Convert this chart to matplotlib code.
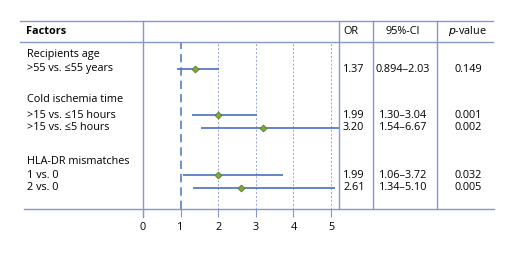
import matplotlib
matplotlib.use("Agg")
import matplotlib.pyplot as plt
from matplotlib.lines import Line2D

plt.rcParams["font.family"] = ["Open Sans", "DejaVu Sans"]

# data
GROUPS = ["Recipients age", "Cold ischemia time", "HLA-DR mismatches"]
LABELS = [">55 vs. \u226455 years",
          ">15 vs. \u226415 hours", ">15 vs. \u22645 hours",
          "1 vs. 0", "2 vs. 0"]
OR = [1.37, 1.99, 3.20, 1.99, 2.61]
CI_LOW = [0.894, 1.30, 1.54, 1.06, 1.34]
CI_HIGH = [2.03, 3.04, 6.67, 3.72, 5.10]
OR_TXT = ["1.37", "1.99", "3.20", "1.99", "2.61"]
CI_TXT = ["0.894\u20132.03", "1.30\u20133.04", "1.54\u20136.67",
          "1.06\u20133.72", "1.34\u20135.10"]
P_TXT = ["0.149", "0.001", "0.002", "0.032", "0.005"]
TICKS = [0, 1, 2, 3, 4, 5]

# layout (pixel rows from top)
GROUP_Y = [55, 100, 162]
ROW_Y = [69, 115, 128, 175, 188]
W, H = 520, 256
LINE_C = "#8797c8"
BAR_C = "#4a70bf"
FS = 7.8


def fx(x):
    return x / W


def fy(y):
    return 1 - y / H


fig = plt.figure(figsize=(W / 100, H / 100), dpi=100)

ax = fig.add_axes([fx(143), fy(209), (339 - 143) / W, (209 - 42) / H])
ax.set_xlim(0, 196 / 37.6)
ax.set_ylim(209, 42)
for s in ax.spines.values():
    s.set_visible(False)
ax.set_yticks([])
ax.set_xticks(TICKS)
ax.set_xticklabels([str(t) for t in TICKS], fontsize=FS)
ax.tick_params(axis="x", direction="out", length=6, width=0.8,
               color=LINE_C, pad=3)

# reference lines
ax.axvline(1, color="#5b7dc2", lw=1.2, dashes=(5, 3))
for t in TICKS[2:]:
    ax.axvline(t, color="#9aa6cf", lw=0.7, dashes=(2, 2))

# CIs and points
ax.hlines(ROW_Y, CI_LOW, CI_HIGH, color=BAR_C, lw=1.2, clip_on=True)
ax.plot(OR, ROW_Y, ls="none", marker="D", ms=3.5, mfc="#7fa83a",
        mec="#557f22", mew=0.6, zorder=3)


# table lines
def hline(y, x0, x1):
    fig.add_artist(Line2D([fx(x0), fx(x1)], [fy(y), fy(y)],
                          color=LINE_C, lw=1.0))


def vline(x, y0, y1):
    fig.add_artist(Line2D([fx(x), fx(x)], [fy(y0), fy(y1)],
                          color=LINE_C, lw=1.0))


hline(21, 20, 493)
hline(42, 20, 493)
hline(209, 24, 494)
vline(143, 21, 217)
for x in [339, 373, 437]:
    vline(x, 21, 209)

# header
fig.text(fx(26), fy(31), "Factors", fontsize=FS, fontweight="bold",
         va="center", ha="left")
fig.text(fx(343), fy(31), "OR", fontsize=FS, va="center", ha="left")
fig.text(fx(403), fy(31), "95%-CI", fontsize=FS, va="center", ha="center")
fig.text(fx(467), fy(31), "$p$-value", fontsize=FS, va="center",
         ha="center")

for g, y in zip(GROUPS, GROUP_Y):
    fig.text(fx(27), fy(y), g, fontsize=FS, va="center", ha="left")
for i, y in enumerate(ROW_Y):
    fig.text(fx(27), fy(y), LABELS[i], fontsize=FS, va="center", ha="left")
    fig.text(fx(343), fy(y), OR_TXT[i], fontsize=FS, va="center", ha="left")
    fig.text(fx(403), fy(y), CI_TXT[i], fontsize=FS, va="center",
             ha="center")
    fig.text(fx(468), fy(y), P_TXT[i], fontsize=FS, va="center",
             ha="center")

fig.savefig("out.png", dpi=100)
